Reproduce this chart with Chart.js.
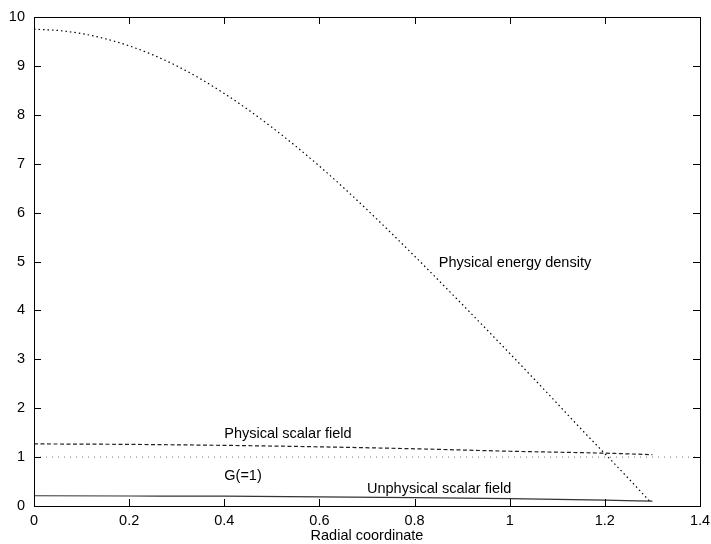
<!DOCTYPE html>
<html lang="en">
<head>
  <meta charset="UTF-8" />
  <title>Radial profiles</title>
  <script src="https://cdn.jsdelivr.net/npm/chart.js"></script>
  <style>
    body { margin: 0; background: #fff; }
    canvas { display: block; }
  </style>
</head>
<body>
  <canvas id="graphCanvas" width="711" height="544"></canvas>

  <script>
    // radial coordinate samples for the energy density curve
    const radius = [0, 0.05, 0.1, 0.15, 0.2, 0.25, 0.3, 0.35, 0.4, 0.45, 0.5, 0.55, 0.6, 0.65,
                    0.7, 0.75, 0.8, 0.85, 0.9, 0.95, 1.0, 1.05, 1.1, 1.15, 1.2, 1.25, 1.296];
    const energyDensity = [9.75, 9.725, 9.66, 9.555, 9.41, 9.225, 9.0, 8.735, 8.435, 8.105, 7.745, 7.36, 6.95, 6.515,
                           6.06, 5.59, 5.11, 4.62, 4.125, 3.625, 3.12, 2.61, 2.095, 1.575, 1.07, 0.56, 0.08];

    // scalar fields (coarser samples)
    const fieldRadius = [0, 0.2, 0.4, 0.6, 0.8, 1.0, 1.2, 1.3];
    const physicalField = [1.27, 1.26, 1.24, 1.21, 1.17, 1.12, 1.08, 1.05];
    const unphysicalField = [0.21, 0.205, 0.20, 0.185, 0.17, 0.15, 0.12, 0.10];

    // G(=1) constant line
    const gRadius = [0, 1.4];
    const gValue = [1, 1];

    const xTicks = [0, 0.2, 0.4, 0.6, 0.8, 1, 1.2, 1.4];
    const yTicks = [0, 1, 2, 3, 4, 5, 6, 7, 8, 9, 10];

    // text labels placed in data coordinates
    const curveLabels = [
      { text: 'Physical energy density', x: 0.851, y: 4.89 },
      { text: 'Physical scalar field', x: 0.4, y: 1.39 },
      { text: 'G(=1)', x: 0.4, y: 0.53 },
      { text: 'Unphysical scalar field', x: 0.70, y: 0.27 }
    ];

    const FONT = "'Liberation Sans', Arial, sans-serif";

    function pts(xs, ys) {
      return xs.map((x, i) => ({ x: x, y: ys[i] }));
    }

    // gnuplot-like frame: border plus inward ticks on all sides, and labels
    const framePlugin = {
      id: 'frame',
      afterDatasetsDraw(chart) {
        const c = chart.ctx;
        const a = chart.chartArea;
        const sx = chart.scales.x, sy = chart.scales.y;
        const len = 7;
        c.save();
        c.strokeStyle = '#000';
        c.lineWidth = 1;
        c.beginPath();
        xTicks.forEach(v => {
          const px = Math.round(sx.getPixelForValue(v)) + 0.5;
          c.moveTo(px, a.bottom); c.lineTo(px, a.bottom - len);
          c.moveTo(px, a.top); c.lineTo(px, a.top + len);
        });
        yTicks.forEach(v => {
          const py = Math.round(sy.getPixelForValue(v)) + 0.5;
          c.moveTo(a.left, py); c.lineTo(a.left + len, py);
          c.moveTo(a.right, py); c.lineTo(a.right - len, py);
        });
        c.stroke();
        c.strokeRect(Math.round(a.left) + 0.5, Math.round(a.top) + 0.5,
                     Math.round(a.right - a.left), Math.round(a.bottom - a.top));

        c.fillStyle = '#000';
        c.font = '14.5px ' + FONT;
        c.textAlign = 'left';
        c.textBaseline = 'alphabetic';
        curveLabels.forEach(l => {
          c.fillText(l.text, sx.getPixelForValue(l.x), sy.getPixelForValue(l.y));
        });
        c.restore();
      }
    };

    const ctx = document.getElementById('graphCanvas').getContext('2d');

    const chart = new Chart(ctx, {
      type: 'scatter',
      data: {
        datasets: [
          {
            label: 'Physical energy density',
            data: pts(radius, energyDensity),
            showLine: true,
            cubicInterpolationMode: 'monotone',
            borderColor: '#000',
            borderWidth: 1.2,
            borderDash: [1.5, 3],
            pointRadius: 0
          },
          {
            label: 'Physical scalar field',
            data: pts(fieldRadius, physicalField),
            showLine: true,
            cubicInterpolationMode: 'monotone',
            borderColor: '#222',
            borderWidth: 1.2,
            borderDash: [4, 2.5],
            pointRadius: 0
          },
          {
            label: 'G(=1)',
            data: pts(gRadius, gValue),
            showLine: true,
            borderColor: '#777',
            borderWidth: 1,
            borderDash: [1, 5],
            pointRadius: 0
          },
          {
            label: 'Unphysical scalar field',
            data: pts(fieldRadius, unphysicalField),
            showLine: true,
            cubicInterpolationMode: 'monotone',
            borderColor: '#333',
            borderWidth: 1.2,
            pointRadius: 0
          }
        ]
      },
      options: {
        responsive: false,
        animation: false,
        layout: { padding: { top: 17, right: 11, left: 0, bottom: 0 } },
        plugins: {
          legend: { display: false },
          tooltip: { enabled: false }
        },
        scales: {
          x: {
            type: 'linear',
            min: 0,
            max: 1.4,
            afterFit: s => { s.height = 38; s.paddingLeft = 0; s.paddingRight = 0; },
            afterBuildTicks: s => { s.ticks = xTicks.map(v => ({ value: v })); },
            grid: { display: false, drawTicks: false },
            border: { display: false },
            ticks: {
              color: '#000',
              padding: 6,
              font: { family: FONT, size: 14.5 },
              maxRotation: 0,
              callback: v => String(v)
            },
            title: {
              display: true,
              text: 'Radial coordinate',
              color: '#000',
              padding: { top: 0, bottom: -1 },
              font: { family: FONT, size: 14.5 }
            }
          },
          y: {
            min: 0,
            max: 10,
            afterFit: s => { s.width = 34; s.paddingTop = 0; s.paddingBottom = 0; },
            afterBuildTicks: s => { s.ticks = yTicks.map(v => ({ value: v })); },
            grid: { display: false, drawTicks: false },
            border: { display: false },
            ticks: {
              color: '#000',
              padding: 9,
              font: { family: FONT, size: 14.5 },
              callback: v => String(v)
            }
          }
        }
      },
      plugins: [framePlugin]
    });
  </script>
</body>
</html>
